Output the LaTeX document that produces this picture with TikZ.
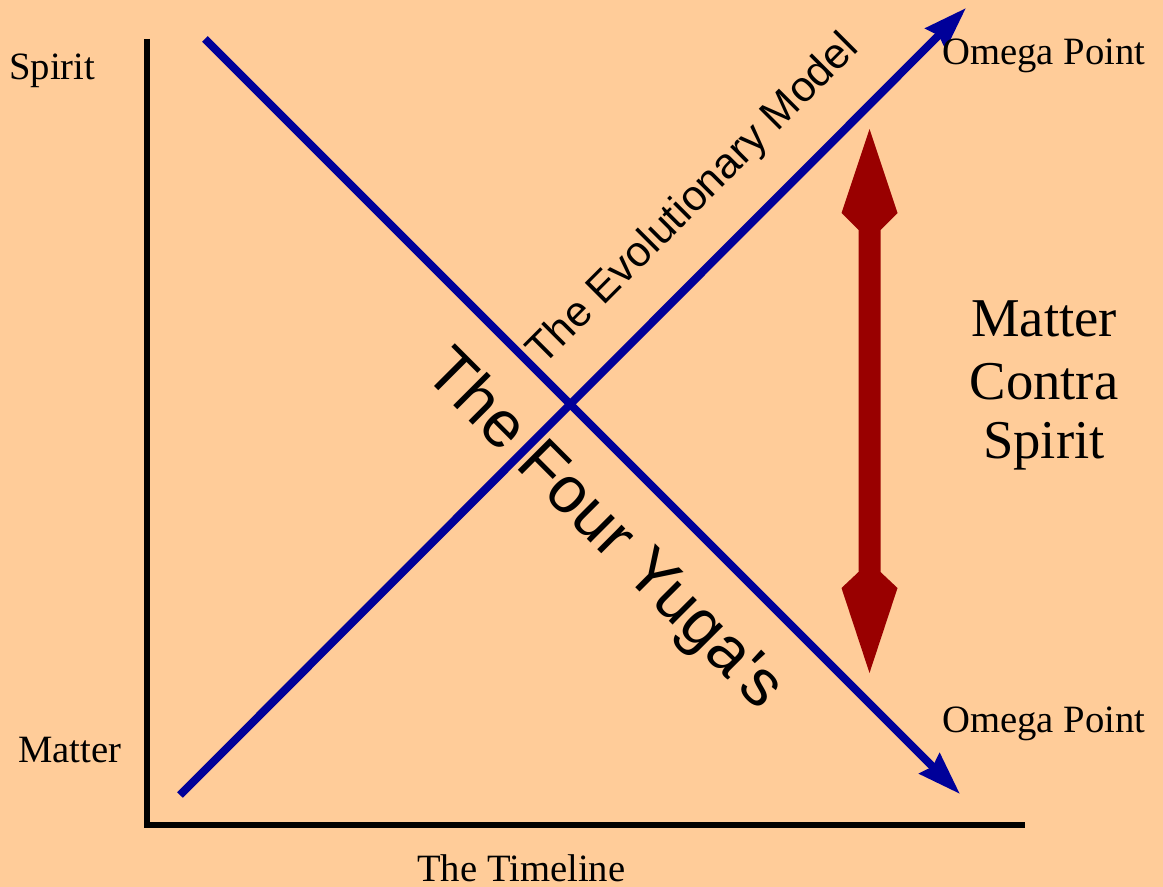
\documentclass[tikz,border=0pt]{standalone}
\usepackage{fontspec}
\setmainfont{Liberation Serif}
\newfontfamily\arialfont{Liberation Sans}
\usetikzlibrary{arrows.meta}
\definecolor{bgpeach}{HTML}{FFCC99}
\definecolor{lineblue}{HTML}{000099}
\definecolor{darkred}{HTML}{990000}
\begin{document}
\begin{tikzpicture}[x=0.75pt,y=-0.75pt,
  axisline/.style={line width=4.5pt,line join=miter,line cap=butt,black},
  blueline/.style={draw=lineblue,line width=6pt,-{Stealth[length=32pt,width=21pt,inset=3pt]}},
  seriflabel/.style={font=\fontsize{29}{34}\selectfont,inner sep=0pt,anchor=base west},
  bigserif/.style={font=\fontsize{41}{46}\selectfont,inner sep=0pt,anchor=base},
  slanted/.style={font=\arialfont,inner sep=0pt,anchor=base west}]
\fill[bgpeach] (0,0) rectangle (1163,887);
\useasboundingbox (0,0) rectangle (1163,887);
% axes
\coordinate (axtop) at (147,39);
\coordinate (axcorner) at (147,825);
\coordinate (axright) at (1025,825);
\draw[axisline] (axtop) -- (axcorner) -- (axright);
% blue lines
\coordinate (evoStart) at (180,795);
\coordinate (evoEnd) at (966,8);
\coordinate (yugaStart) at (205,39);
\coordinate (yugaEnd) at (960,794);
\draw[blueline] (evoStart) -- (evoEnd);
\draw[blueline] (yugaStart) -- (yugaEnd);
% red double arrow
\coordinate (redTop) at (869.5,129);
\coordinate (redBot) at (869.5,673);
\fill[darkred] (redTop) -- ++(28,84) -- ++(-17,17) -- (880.5,572) -- ++(17,16) -- (redBot)
  -- (841.5,588) -- ++(17,-16) -- (858.5,230) -- ++(-17,-17) -- cycle;
% labels
\node[seriflabel] (spirit) at (9,80) {Spirit};
\node[seriflabel] (matter) at (18,762) {Matter};
\node[seriflabel] (timeline) at (417,881) {The Timeline};
\node[seriflabel] (omegaTop) at (942,65) {Omega Point};
\node[seriflabel] (omegaBot) at (942,732) {Omega Point};
\node[bigserif] (mcs1) at (1044,337) {Matter};
\node[bigserif] (mcs2) at (1044,400) {Contra};
\node[bigserif] (mcs3) at (1044,459) {Spirit};
\node[slanted,font=\arialfont\fontsize{32}{37}\selectfont,rotate=45] (evoLabel) at (543,367) {The Evolutionary Model};
\node[slanted,font=\arialfont\fontsize{49}{55}\selectfont,rotate=-45] (yugaLabel) at (422,374) {The Four Yuga's};
\end{tikzpicture}
\end{document}
